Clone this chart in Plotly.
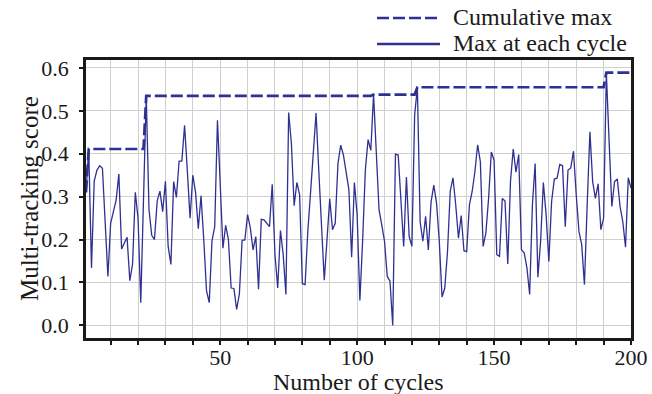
import numpy as np
import plotly.graph_objects as go

cycles = list(range(1, 201))
max_at_cycle = [
    0.31, 0.411, 0.134, 0.336, 0.362, 0.372, 0.366, 0.24, 0.114, 0.238,
    0.262, 0.292, 0.353, 0.178, 0.192, 0.205, 0.104, 0.143, 0.31, 0.25,
    0.053, 0.30, 0.535, 0.27, 0.21, 0.20, 0.29, 0.313, 0.265, 0.336,
    0.184, 0.142, 0.335, 0.298, 0.383, 0.383, 0.466, 0.36, 0.25, 0.35,
    0.31, 0.225, 0.302, 0.20, 0.081, 0.053, 0.197, 0.23, 0.478, 0.33,
    0.18, 0.233, 0.20, 0.087, 0.086, 0.037, 0.073, 0.198, 0.199, 0.258,
    0.227, 0.176, 0.207, 0.084, 0.247, 0.246, 0.238, 0.23, 0.329, 0.165,
    0.087, 0.221, 0.165, 0.072, 0.496, 0.424, 0.279, 0.333, 0.304, 0.097,
    0.095, 0.22, 0.31, 0.40, 0.495, 0.36, 0.23, 0.105, 0.20, 0.295,
    0.223, 0.238, 0.377, 0.42, 0.397, 0.358, 0.316, 0.159, 0.333, 0.258,
    0.058, 0.196, 0.362, 0.433, 0.408, 0.538, 0.40, 0.269, 0.234, 0.196,
    0.114, 0.103, 0.0, 0.399, 0.397, 0.288, 0.184, 0.346, 0.207, 0.184,
    0.49, 0.555, 0.242, 0.196, 0.254, 0.176, 0.288, 0.327, 0.285, 0.196,
    0.066, 0.087, 0.172, 0.313, 0.344, 0.281, 0.203, 0.256, 0.174, 0.172,
    0.281, 0.312, 0.358, 0.421, 0.381, 0.184, 0.215, 0.296, 0.404, 0.385,
    0.165, 0.161, 0.296, 0.29, 0.143, 0.336, 0.411, 0.357, 0.398, 0.176,
    0.169, 0.134, 0.072, 0.281, 0.377, 0.112, 0.196, 0.333, 0.258, 0.149,
    0.288, 0.341, 0.343, 0.375, 0.372, 0.23, 0.362, 0.367, 0.406, 0.304,
    0.219, 0.188, 0.095, 0.281, 0.451, 0.335, 0.296, 0.33, 0.223, 0.25,
    0.589, 0.43, 0.277, 0.335, 0.341, 0.277, 0.242, 0.182, 0.344, 0.32,
]
cumulative_max = np.maximum.accumulate(np.array(max_at_cycle)).tolist()

x_ticks = [50, 100, 150, 200]
y_ticks = [0.0, 0.1, 0.2, 0.3, 0.4, 0.5, 0.6]
series_names = ["Cumulative max", "Max at each cycle"]
x_title = "Number of cycles"
y_title = "Multi-tracking score"

COLOR = "#2e3192"
FONT = "Liberation Serif"
TXT = "#1a1a1a"

fig = go.Figure()
fig.add_trace(go.Scatter(x=cycles, y=cumulative_max, mode="lines", name=series_names[0],
                         line=dict(color=COLOR, width=2.7, dash="12px,4px"), showlegend=False))
fig.add_trace(go.Scatter(x=cycles, y=max_at_cycle, mode="lines", name=series_names[1],
                         line=dict(color=COLOR, width=1.3), showlegend=False))

L, T = 86, 60
W, H = 545, 278
def px_x(p):
    return (p - L) / W
def px_y(p):
    return (T + H - p) / H

# legend drawn above the plot (top right)
legend_rows = [(series_names[0], "12px,4px", 18), (series_names[1], "solid", 44)]
for name, dash, yy in legend_rows:
    fig.add_shape(type="line", xref="paper", yref="paper",
                  x0=px_x(377), x1=px_x(440), y0=px_y(yy), y1=px_y(yy),
                  line=dict(color=COLOR, width=2.7, dash=dash))
    fig.add_annotation(xref="paper", yref="paper", x=px_x(451), y=px_y(yy - 1),
                       text=name, showarrow=False, xanchor="left", yanchor="middle",
                       font=dict(family=FONT, size=24, color=TXT))

# axis titles
fig.add_annotation(xref="paper", yref="paper", x=0.5, y=px_y(382), text=x_title,
                   showarrow=False, xanchor="center", yanchor="middle",
                   font=dict(family=FONT, size=24, color=TXT))
fig.add_annotation(xref="paper", yref="paper", x=px_x(29), y=0.5, text=y_title,
                   showarrow=False, xanchor="center", yanchor="middle", textangle=-90,
                   font=dict(family=FONT, size=25, color=TXT))

axis_common = dict(showline=True, linecolor=TXT, linewidth=2.5, mirror=True,
                   gridcolor="#cfcfcf", gridwidth=1.2, zeroline=False, automargin=False,
                   ticks="outside", ticklen=4, tickwidth=1.5, tickcolor=TXT,
                   ticklabeloverflow="allow",
                   tickfont=dict(family=FONT, size=22, color=TXT))

fig.update_xaxes(range=[1, 200], tickvals=x_ticks, showgrid=True, ticklabelstandoff=-6,
                 minor=dict(dtick=10, tick0=0, showgrid=True, gridcolor="#cfcfcf", gridwidth=1.2,
                            ticks="outside", ticklen=4, tickwidth=1.5, tickcolor=TXT),
                 **axis_common)
fig.update_yaxes(range=[-0.0295, 0.6185], tickvals=y_ticks, tickformat=".1f", showgrid=True,
                 ticklabelstandoff=6, **axis_common)

fig.update_layout(width=652, height=394, margin=dict(l=L, r=652 - L - W, t=T, b=394 - T - H, pad=0),
                  plot_bgcolor="white", paper_bgcolor="white",
                  font=dict(family=FONT, color=TXT))

fig.write_html("out.html", config={"displayModeBar": False},
               post_script="document.body.style.margin='0';")
